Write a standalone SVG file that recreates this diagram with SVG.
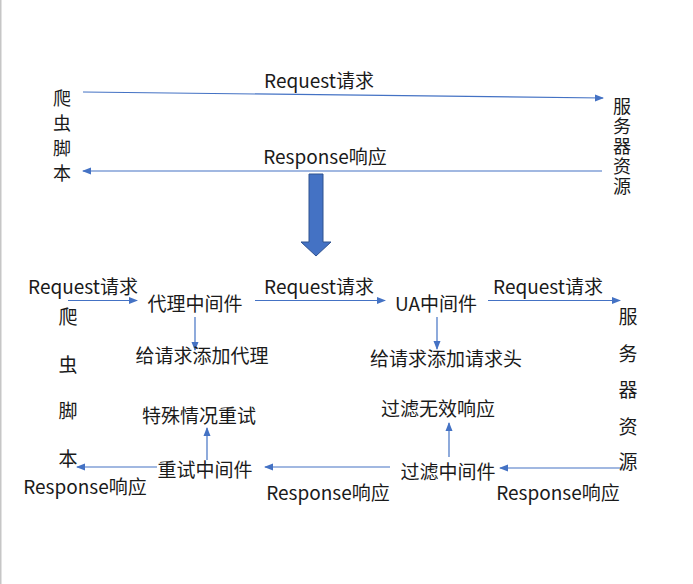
<svg xmlns="http://www.w3.org/2000/svg" width="693" height="584" viewBox="0 0 693 584">
<style>
text{font-family:"Noto Sans CJK SC","Microsoft YaHei",sans-serif;font-size:19px;fill:#1a1a1a;text-anchor:middle;dominant-baseline:central}
.v{font-size:18px}
.c{stroke:#4472C4;stroke-width:1.2;fill:none;marker-end:url(#ah)}
</style>
<defs>
<marker id="ah" markerUnits="userSpaceOnUse" markerWidth="9" markerHeight="8" refX="8" refY="4" orient="auto">
<path d="M0,0.5 L9,4 L0,7.5 z" fill="#4472C4"/>
</marker>
</defs>
<rect x="0" y="0" width="1.5" height="584" fill="#c6c6c6"/>

<g id="connectors">
<line class="c" x1="83" y1="92" x2="603" y2="98"/>
<line class="c" x1="602" y1="171" x2="83" y2="171"/>
<line class="c" x1="68" y1="300.5" x2="137" y2="300.5"/>
<line class="c" x1="255" y1="300.5" x2="385" y2="300.5"/>
<line class="c" x1="488" y1="300.5" x2="620" y2="300.5"/>
<line class="c" x1="195" y1="317" x2="195" y2="350"/>
<line class="c" x1="437" y1="317" x2="437" y2="349"/>
<line class="c" x1="623" y1="468" x2="500" y2="468"/>
<line class="c" x1="390" y1="467" x2="265" y2="467"/>
<line class="c" x1="157" y1="467" x2="77" y2="467"/>
<line class="c" x1="449" y1="457" x2="449" y2="423"/>
<line class="c" x1="207" y1="460" x2="207" y2="428"/>
</g>

<g id="bigarrow">
<polygon points="309,174 323,174 323,242 331,242 316,256 301,242 309,242" fill="#4472C4" stroke="#2F528F" stroke-width="1"/>
</g>

<g id="labels-top">
<text x="319" y="79">Request请求</text>
<text x="325" y="155">Response响应</text>
</g>

<g id="spider-top">
<text class="v" x="62" y="97">爬</text>
<text class="v" x="62" y="122">虫</text>
<text class="v" x="62" y="147">脚</text>
<text class="v" x="62" y="172">本</text>
</g>

<g id="server-top">
<text class="v" x="622" y="147" style="writing-mode:vertical-rl;letter-spacing:2px">服务器资源</text>
</g>

<g id="spider">
<text x="68" y="315">爬</text>
<text x="68" y="363">虫</text>
<text x="68" y="409">脚</text>
<text x="68" y="457">本</text>
</g>

<g id="server">
<text x="628" y="315">服</text>
<text x="628" y="352">务</text>
<text x="628" y="388">器</text>
<text x="628" y="425">资</text>
<text x="628" y="460">源</text>
</g>

<g id="proxy">
<text x="195" y="302">代理中间件</text>
</g>
<g id="proxy-desc">
<text x="202" y="354">给请求添加代理</text>
</g>
<g id="ua">
<text x="436" y="302">UA中间件</text>
</g>
<g id="ua-desc">
<text x="446" y="357">给请求添加请求头</text>
</g>
<g id="retry">
<text x="205" y="468">重试中间件</text>
</g>
<g id="retry-desc">
<text x="199" y="414">特殊情况重试</text>
</g>
<g id="filter">
<text x="448" y="470">过滤中间件</text>
</g>
<g id="filter-desc">
<text x="438" y="407">过滤无效响应</text>
</g>

<g id="labels-bottom">
<text x="83" y="285">Request请求</text>
<text x="319" y="285">Request请求</text>
<text x="548" y="285">Request请求</text>
<text x="85" y="485">Response响应</text>
<text x="328" y="491">Response响应</text>
<text x="558" y="491">Response响应</text>
</g>
</svg>
